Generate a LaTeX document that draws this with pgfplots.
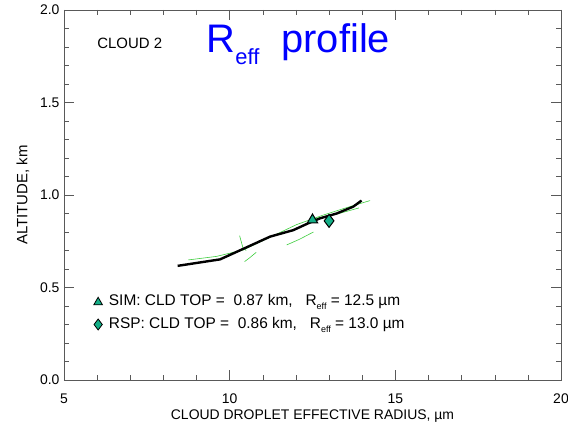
\documentclass[border=0pt]{standalone}
\usepackage{pgfplots}
\pgfplotsset{compat=1.18}
\usepackage{fontspec}
\setmainfont{Liberation Sans}
\definecolor{mkfill}{RGB}{20,175,135}
\definecolor{lgreen}{RGB}{60,205,60}
\begin{document}
\begin{tikzpicture}
\begin{axis}[
 at={(0,0)}, anchor=south west,
 scale only axis, width=497bp, height=370bp,
 xmin=5, xmax=20, ymin=0, ymax=2,
 xtick={5,10,15,20}, ytick={0,0.5,1,1.5,2},
 minor x tick num=4, minor y tick num=4,
 yticklabel style={/pgf/number format/fixed,/pgf/number format/precision=1,/pgf/number format/fixed zerofill},
 /pgf/number format/assume math mode=true,
 tick align=inside, major tick length=10bp, minor tick length=5bp,
 axis line style={black!65}, every tick/.style={black!65},
 tick label style={font=\fontsize{14}{16}\selectfont},
 xticklabel style={yshift=-10bp},
 yticklabel style={xshift=-1bp},
 xlabel={CLOUD DROPLET EFFECTIVE RADIUS, µm},
 ylabel={ALTITUDE, km},
 xlabel style={font=\fontsize{14}{16}\selectfont, yshift=0bp},
 ylabel style={font=\fontsize{15}{17}\selectfont, yshift=4bp},
 clip=false,
]
% green thin curves
\addplot[lgreen, line width=0.6bp] coordinates {(8.75,0.649) (9.6,0.668) (10.41,0.703) (11.2,0.77) (12.02,0.84) (12.8,0.89) (13.5,0.93) (14.24,0.97)};
\addplot[lgreen, line width=0.6bp] coordinates {(11.72,0.73) (12.1,0.76) (12.53,0.80)};
\addplot[lgreen, line width=0.6bp] coordinates {(10.3,0.78) (10.4,0.715) (10.5,0.70)};
\addplot[lgreen, line width=0.6bp] coordinates {(10.8,0.69) (10.6,0.66) (10.45,0.64)};
\addplot[lgreen, line width=0.6bp] coordinates {(12.5,0.87) (13.2,0.895) (13.9,0.93)};
% black profile
\addplot[black, line width=2.4bp] coordinates {(8.43,0.617) (9.71,0.652) (10.51,0.717) (11.22,0.775) (11.92,0.81) (12.37,0.847) (12.73,0.874) (13.23,0.90) (13.73,0.937) (13.98,0.97)};
% markers
\addplot[only marks, mark=triangle*, mark size=6bp, mark options={fill=mkfill, draw=black, line width=1bp}] coordinates {(12.5,0.865)};
\addplot[only marks, mark=diamond*, mark size=6.5bp, mark options={fill=mkfill, draw=black, line width=1bp}] coordinates {(13.0,0.86)};
% legend markers
\addplot[only marks, mark=triangle*, mark size=5bp, mark options={fill=mkfill, draw=black, line width=0.8bp}] coordinates {(6.03,0.42)};
\addplot[only marks, mark=diamond*, mark size=5.5bp, mark options={fill=mkfill, draw=black, line width=0.8bp}] coordinates {(6.03,0.30)};
\node[anchor=west, font=\fontsize{15.5}{17}\selectfont, inner sep=0pt] at (axis cs:6.35,0.42) {SIM: CLD TOP = \ 0.87 km, \ \ R\raisebox{-0.5ex}{\fontsize{9}{9}\selectfont eff} = 12.5 µm};
\node[anchor=west, font=\fontsize{15.5}{17}\selectfont, inner sep=0pt] at (axis cs:6.35,0.30) {RSP: CLD TOP = \ 0.86 km, \ \ R\raisebox{-0.5ex}{\fontsize{9}{9}\selectfont eff} = 13.0 µm};
\node[anchor=west, font=\fontsize{15}{17}\selectfont, inner sep=0pt] at (axis cs:6.0,1.82) {CLOUD 2};
\node[anchor=base west, font=\fontsize{40}{42}\selectfont, text=blue, inner sep=0pt] at (axis cs:9.3,1.768) {R\raisebox{-12bp}{\fontsize{22}{22}\selectfont eff}\ \ profile};
\end{axis}
\pgfresetboundingbox
\path[use as bounding box] (-64bp,-49bp) rectangle (504bp,380bp);
\end{tikzpicture}
\end{document}
